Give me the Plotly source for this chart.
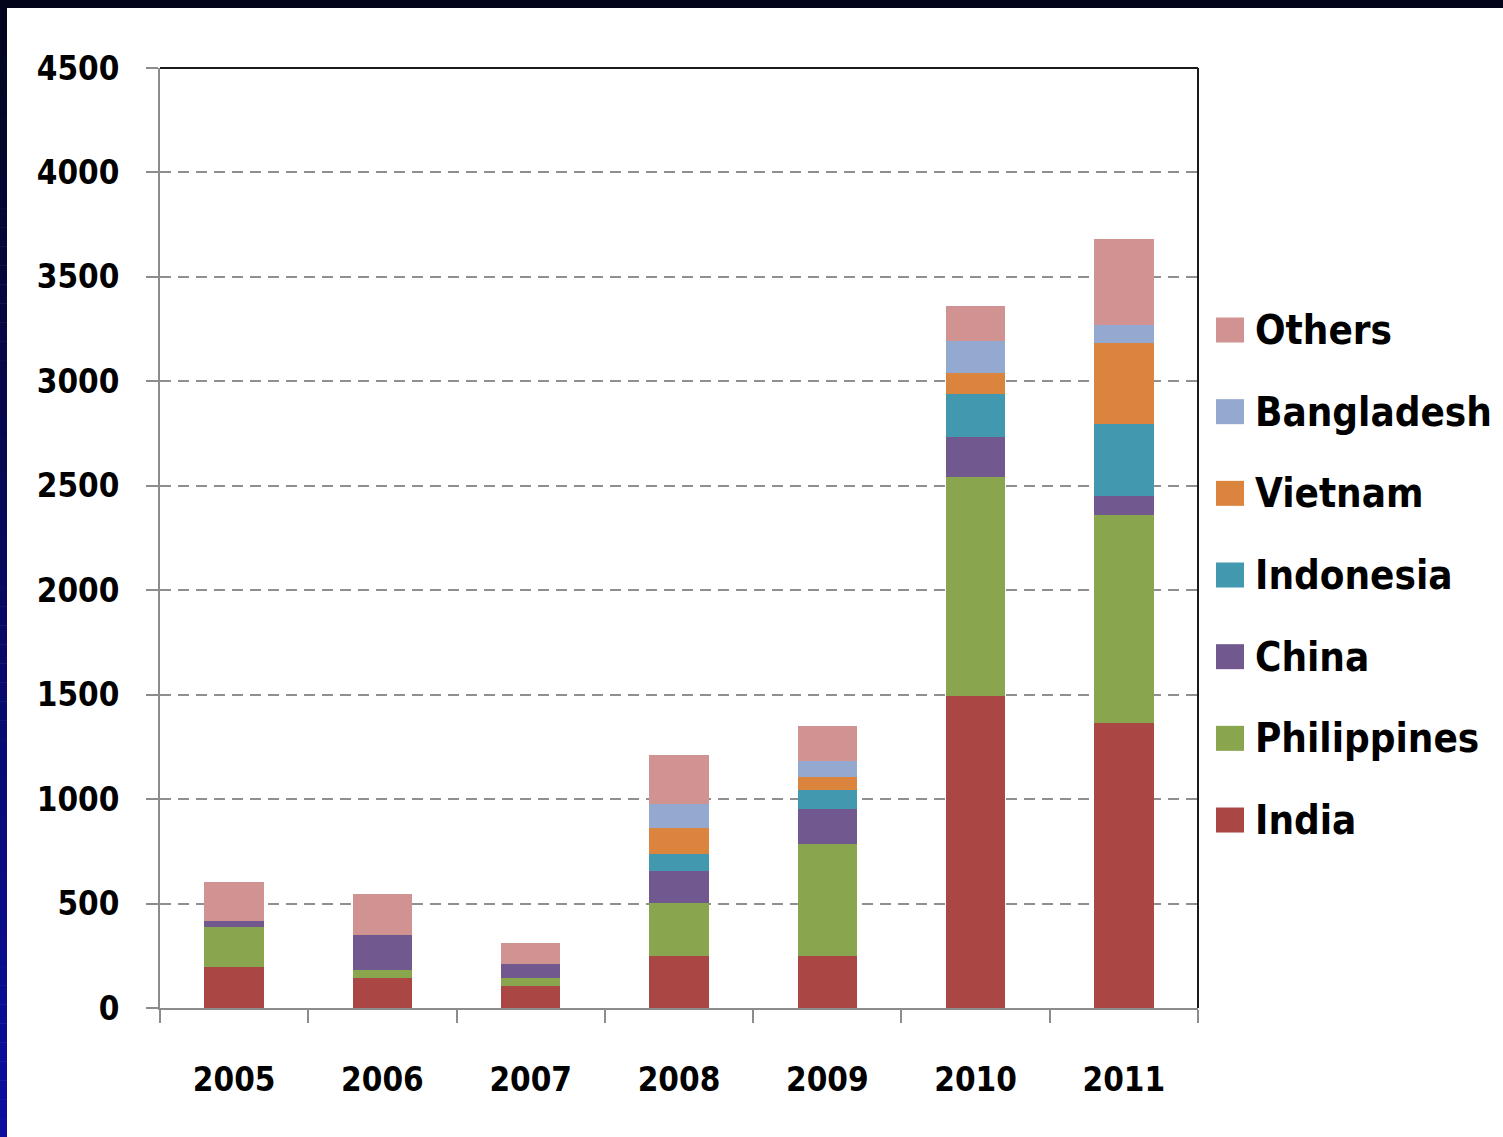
import plotly.graph_objects as go

# ---- data -------------------------------------------------------------
years = ["2005", "2006", "2007", "2008", "2009", "2010", "2011"]

india = [197, 145, 107, 249, 249, 1494, 1366]
philippines = [192, 37, 38, 255, 536, 1046, 994]
china = [27, 167, 64, 153, 168, 192, 91]
indonesia = [0, 0, 0, 79, 89, 207, 346]
vietnam = [0, 0, 0, 127, 64, 102, 385]
bangladesh = [0, 0, 0, 115, 78, 153, 89]
others = [189, 195, 104, 232, 167, 168, 410]

series_names = ["India", "Philippines", "China", "Indonesia", "Vietnam", "Bangladesh", "Others"]
series_values = [india, philippines, china, indonesia, vietnam, bangladesh, others]
series_colors = ["#AA4643", "#89A54E", "#71588F", "#4198AF", "#DB843D", "#93A9CF", "#D19392"]

y_ticks = [0, 500, 1000, 1500, 2000, 2500, 3000, 3500, 4000, 4500]

# ---- geometry (pixels) ------------------------------------------------
W, H = 1503, 1137
L, R, T, B = 160, 305, 68, 129
PW, PH = W - L - R, H - T - B

def px_x(x):
    return (x - L) / PW

def px_y(y):
    return (H - B - y) / PH

FONT = "DejaVu Sans Condensed, DejaVu Sans, sans-serif"

fig = go.Figure()
for name, vals, col in zip(series_names, series_values, series_colors):
    fig.add_trace(go.Bar(
        x=years, y=vals, name=name,
        marker=dict(color=col, line=dict(width=0)),
        showlegend=False,
    ))

shapes = []
annotations = []

# legend: swatch + label, top entry is the last series
row0, row_step = 330, 81.67
for k, (name, col) in enumerate(zip(series_names[::-1], series_colors[::-1])):
    yc = row0 + k * row_step
    shapes.append(dict(
        type="rect", xref="paper", yref="paper",
        x0=px_x(1216), x1=px_x(1244), y0=px_y(yc + 12.5), y1=px_y(yc - 12.5),
        fillcolor=col, line=dict(width=0),
    ))
    annotations.append(dict(
        xref="paper", yref="paper", x=px_x(1253), y=px_y(yc),
        xanchor="left", yanchor="middle", showarrow=False,
        text=name, font=dict(family=FONT, size=40, color="black", weight="bold"),
    ))

# plot-area border: top and right edges in black
shapes.append(dict(type="line", xref="paper", yref="paper", x0=0, x1=1, y0=1, y1=1,
                   line=dict(color="#1a1a1a", width=2), layer="above"))
shapes.append(dict(type="line", xref="paper", yref="paper", x0=1, x1=1, y0=0, y1=1,
                   line=dict(color="#1a1a1a", width=2), layer="above"))

# dark slide frame: top band and a left strip shading into blue
shapes.append(dict(type="rect", xref="paper", yref="paper",
                   x0=px_x(0), x1=px_x(W), y0=px_y(8), y1=px_y(0),
                   fillcolor="#03051a", line=dict(width=0), layer="above"))
top_c, bot_c = (3, 5, 28), (11, 14, 160)
n_seg = 60
for i in range(n_seg):
    t = (i + 0.5) / n_seg
    c = tuple(round(a + (b - a) * t) for a, b in zip(top_c, bot_c))
    y0p, y1p = H * i / n_seg, H * (i + 1) / n_seg
    shapes.append(dict(type="rect", xref="paper", yref="paper",
                       x0=px_x(0), x1=px_x(7), y0=px_y(y1p + 0.5), y1=px_y(y0p),
                       fillcolor="rgb(%d,%d,%d)" % c, line=dict(width=0), layer="above"))

tickfont = dict(family=FONT, size=33, color="black", weight="bold")

fig.update_layout(
    barmode="stack",
    bargap=0.6,
    width=W, height=H,
    margin=dict(l=L, r=R, t=T, b=B, pad=0),
    paper_bgcolor="white",
    plot_bgcolor="white",
    showlegend=False,
    shapes=shapes,
    annotations=annotations,
    xaxis=dict(
        type="category",
        tickson="boundaries",
        ticks="outside", ticklen=13, tickwidth=2, tickcolor="#8c8c8c",
        showline=True, linecolor="#8c8c8c", linewidth=2,
        showgrid=False,
        tickfont=tickfont,
        ticklabelstandoff=41,
    ),
    yaxis=dict(
        range=[0, 4500],
        tickvals=y_ticks,
        ticks="outside", ticklen=12, tickwidth=2, tickcolor="#8c8c8c",
        showline=True, linecolor="#8c8c8c", linewidth=2,
        showgrid=True, gridcolor="#8f8f8f", gridwidth=2, griddash="11px,7px",
        zeroline=False,
        tickfont=tickfont,
        ticklabelstandoff=20,
    ),
)

fig.write_html("out.html")
